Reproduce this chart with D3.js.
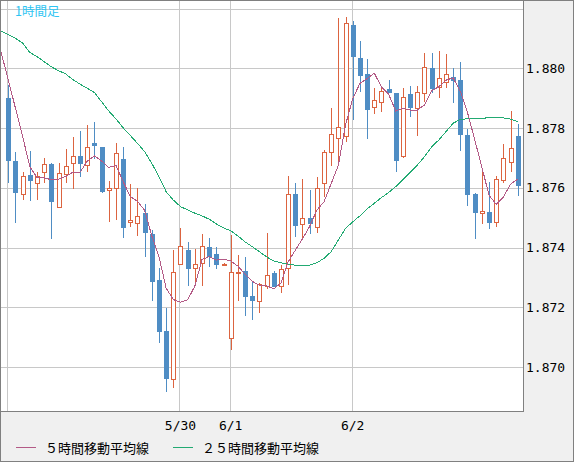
<!DOCTYPE html>
<html><head><meta charset="utf-8">
<script src="https://cdn.jsdelivr.net/npm/d3@7"></script>
<style>
html,body{margin:0;padding:0;background:#f0f0f0;}
svg{display:block;}
</style></head>
<body>
<svg id="chart" width="574" height="462"></svg>
<script>
// ---- data ----
const opens  = [1.87900,1.87690,1.87578,1.87643,1.87615,1.87654,1.87680,1.87537,1.87645,1.87682,1.87706,1.87675,1.87749,1.87735,1.87592,1.87598,1.87696,1.87484,1.87481,1.87514,1.87445,1.87291,1.87122,1.86959,1.87344,1.87392,1.87330,1.87347,1.87401,1.87378,1.87343,1.87096,1.87314,1.87321,1.87238,1.87222,1.87272,1.87314,1.87271,1.87330,1.87579,1.87478,1.87498,1.87468,1.87615,1.87719,1.87766,1.87774,1.88145,1.88033,1.87980,1.87871,1.87888,1.87931,1.87916,1.87707,1.87914,1.87866,1.87916,1.88000,1.87938,1.87955,1.87970,1.87961,1.87777,1.87579,1.87517,1.87518,1.87484,1.87626,1.87685,1.87773];
const highs  = [1.87944,1.87720,1.87653,1.87723,1.87653,1.87701,1.87682,1.87684,1.87730,1.87771,1.87790,1.87810,1.87820,1.87737,1.87622,1.87751,1.87735,1.87613,1.87598,1.87546,1.87459,1.87330,1.87197,1.87392,1.87466,1.87418,1.87395,1.87445,1.87433,1.87401,1.87347,1.87442,1.87375,1.87369,1.87286,1.87282,1.87450,1.87322,1.87341,1.87639,1.87617,1.87628,1.87592,1.87635,1.87726,1.87866,1.88167,1.88171,1.88158,1.88091,1.88031,1.87933,1.87936,1.87961,1.87918,1.87933,1.87941,1.87941,1.88052,1.88052,1.88058,1.88048,1.88000,1.88020,1.87796,1.87581,1.87656,1.87618,1.87639,1.87746,1.87858,1.87813];
const lows   = [1.87617,1.87481,1.87559,1.87557,1.87559,1.87617,1.87428,1.87535,1.87617,1.87597,1.87637,1.87654,1.87695,1.87583,1.87486,1.87492,1.87431,1.87468,1.87439,1.87367,1.87222,1.87079,1.86917,1.86929,1.87342,1.87272,1.87274,1.87271,1.87336,1.87328,1.87341,1.87057,1.87222,1.87172,1.87157,1.87180,1.87263,1.87269,1.87247,1.87274,1.87436,1.87427,1.87444,1.87450,1.87568,1.87674,1.87687,1.87752,1.87827,1.87922,1.87763,1.87847,1.87855,1.87916,1.87654,1.87699,1.87838,1.87773,1.87888,1.87916,1.87901,1.87933,1.87883,1.87724,1.87539,1.87427,1.87479,1.87462,1.87470,1.87615,1.87654,1.87573];
const closes = [1.87691,1.87583,1.87639,1.87624,1.87639,1.87679,1.87553,1.87648,1.87673,1.87706,1.87679,1.87737,1.87740,1.87587,1.87598,1.87715,1.87464,1.87492,1.87505,1.87450,1.87286,1.87118,1.86959,1.87317,1.87405,1.87328,1.87345,1.87405,1.87369,1.87341,1.87345,1.87317,1.87317,1.87235,1.87222,1.87278,1.87308,1.87269,1.87327,1.87578,1.87473,1.87498,1.87478,1.87598,1.87719,1.87779,1.87802,1.88150,1.88039,1.87975,1.87860,1.87894,1.87924,1.87916,1.87691,1.87903,1.87868,1.87920,1.88003,1.87931,1.87966,1.87981,1.87958,1.87777,1.87576,1.87517,1.87522,1.87481,1.87628,1.87699,1.87732,1.87607];
// moving averages, starting one bar before the first visible candle
const ma5  = [1.88053,1.87961,1.87866,1.87771,1.87671,1.87635,1.87633,1.87627,1.87629,1.87638,1.87652,1.87652,1.87689,1.87707,1.87690,1.87668,1.87675,1.87621,1.87571,1.87555,1.87525,1.87439,1.87370,1.87264,1.87226,1.87217,1.87225,1.87271,1.87360,1.87370,1.87358,1.87361,1.87355,1.87338,1.87311,1.87287,1.87274,1.87272,1.87262,1.87281,1.87352,1.87391,1.87429,1.87471,1.87525,1.87553,1.87614,1.87675,1.87810,1.87898,1.87949,1.87965,1.87984,1.87938,1.87914,1.87857,1.87866,1.87860,1.87860,1.87877,1.87925,1.87938,1.87960,1.87968,1.87923,1.87852,1.87762,1.87670,1.87575,1.87545,1.87569,1.87612,1.87629];
const ma25 = [1.88125,1.88113,1.88100,1.88084,1.88053,1.88039,1.88022,1.88005,1.87992,1.87981,1.87962,1.87947,1.87933,1.87919,1.87888,1.87857,1.87831,1.87801,1.87775,1.87749,1.87721,1.87682,1.87637,1.87587,1.87559,1.87537,1.87526,1.87515,1.87506,1.87495,1.87479,1.87466,1.87456,1.87439,1.87419,1.87403,1.87386,1.87369,1.87355,1.87349,1.87345,1.87341,1.87341,1.87341,1.87349,1.87364,1.87386,1.87425,1.87464,1.87486,1.87506,1.87529,1.87548,1.87567,1.87584,1.87604,1.87628,1.87651,1.87676,1.87704,1.87737,1.87760,1.87788,1.87816,1.87829,1.87831,1.87831,1.87832,1.87835,1.87835,1.87834,1.87830,1.87821];
const yTicks = [1.870,1.872,1.874,1.876,1.878,1.880,1.882];
const yTickLabels = ["1.870","1.872","1.874","1.876","1.878","1.880",""];
const xTickIdx = [0,24,31,48];
const xTickLabels = ["","5/30","6/1","6/2"];
const title = "1時間足";
const legendLabels = ["５時間移動平均線","２５時間移動平均線"];

// ---- layout ----
const W = 574, H = 462;
const plotR = 523, plotB = 411;
const svg = d3.select("#chart");

const x = d3.scaleLinear().domain([0, closes.length - 1]).range([8.3, 517.7]);
const y = d3.scaleLinear().domain([1.870, 1.882]).range([367.1, 8.5]);

const colUp = "#dc6440", colDown = "#4f8dc4", colMa5 = "#b35a86", colMa25 = "#22aa72";

svg.append("rect").attr("x",0).attr("y",0).attr("width",W).attr("height",H).attr("fill","#f0f0f0");
svg.append("rect").attr("x",0).attr("y",0).attr("width",plotR).attr("height",plotB).attr("fill","#fff");

svg.append("defs").append("clipPath").attr("id","clip")
  .append("rect").attr("x",0).attr("y",0).attr("width",plotR).attr("height",plotB);

const grid = svg.append("g").attr("shape-rendering","crispEdges");
grid.selectAll("line.h").data(yTicks).join("line")
  .attr("x1",0).attr("x2",plotR)
  .attr("y1",d=>Math.round(y(d))+0.5).attr("y2",d=>Math.round(y(d))+0.5)
  .attr("stroke","#c8c8c8");
grid.selectAll("line.v").data(xTickIdx).join("line")
  .attr("y1",0).attr("y2",plotB)
  .attr("x1",d=>Math.round(x(d))-0.5).attr("x2",d=>Math.round(x(d))-0.5)
  .attr("stroke","#c8c8c8");

const plot = svg.append("g").attr("clip-path","url(#clip)");
const candles = plot.append("g").attr("shape-rendering","crispEdges");
const data = closes.map((c,i)=>({i, o:opens[i], h:highs[i], l:lows[i], c}));

data.forEach(d=>{
  const cx = Math.round(x(d.i));
  const up = d.c >= d.o;
  const yTop = Math.round(y(Math.max(d.o,d.c)));
  const yBot = Math.round(y(Math.min(d.o,d.c)));
  const yH = Math.round(y(d.h)), yL = Math.round(y(d.l));
  const g = candles.append("g");
  if (up) {
    g.append("line").attr("x1",cx+0.5).attr("x2",cx+0.5).attr("y1",yH).attr("y2",yTop).attr("stroke",colUp);
    g.append("line").attr("x1",cx+0.5).attr("x2",cx+0.5).attr("y1",Math.max(yBot,yTop+1)).attr("y2",Math.max(yL,yBot)).attr("stroke",colUp);
    g.append("rect").attr("x",cx-1.5).attr("y",yTop+0.5).attr("width",4)
      .attr("height",Math.max(1,yBot-yTop)).attr("fill","#fff").attr("stroke",colUp);
  } else {
    g.append("line").attr("x1",cx+0.5).attr("x2",cx+0.5).attr("y1",yH).attr("y2",yL).attr("stroke",colDown);
    g.append("rect").attr("x",cx-2).attr("y",yTop).attr("width",5)
      .attr("height",Math.max(1,yBot-yTop)).attr("fill",colDown);
  }
});

const line = d3.line().x((d,k)=>x(k-1)).y(d=>y(d));
plot.append("path").datum(ma25).attr("d",line).attr("fill","none").attr("stroke",colMa25).attr("stroke-width",1).attr("shape-rendering","crispEdges");
plot.append("path").datum(ma5).attr("d",line).attr("fill","none").attr("stroke",colMa5).attr("stroke-width",1).attr("shape-rendering","crispEdges");

// borders
const fr = svg.append("g").attr("shape-rendering","crispEdges").attr("fill","none").attr("stroke","#808080");
fr.append("rect").attr("x",0.5).attr("y",0.5).attr("width",W-1).attr("height",H-1);
fr.append("line").attr("x1",plotR+0.5).attr("x2",plotR+0.5).attr("y1",0).attr("y2",plotB+1);
fr.append("line").attr("x1",0).attr("x2",plotR+1).attr("y1",plotB+0.5).attr("y2",plotB+0.5);

// axis labels
svg.selectAll("text.y").data(yTicks.filter((d,i)=>yTickLabels[i]!=="")).join("text")
  .attr("x",526).attr("y",d=>y(d)+4.5)
  .attr("font-family","'DejaVu Sans Mono', monospace").attr("font-size",13).attr("fill","#000")
  .text(d=>yTickLabels[yTicks.indexOf(d)]);
svg.selectAll("text.x").data(xTickIdx.filter((d,i)=>xTickLabels[i]!=="")).join("text")
  .attr("x",d=>x(d)).attr("y",429.5).attr("text-anchor","middle")
  .attr("font-family","'DejaVu Sans Mono', monospace").attr("font-size",13).attr("fill","#000")
  .text(d=>xTickLabels[xTickIdx.indexOf(d)]);

// title
svg.append("text").attr("x",15).attr("y",15.5).attr("font-family","'Noto Sans CJK JP', sans-serif")
  .attr("font-size",12.5).attr("fill","#2ec4f2").text(title);

// legend
const leg = [{c:colMa5, x:16, t:legendLabels[0]}, {c:colMa25, x:173, t:legendLabels[1]}];
leg.forEach(d=>{
  svg.append("line").attr("x1",d.x).attr("x2",d.x+20).attr("y1",447.5).attr("y2",447.5)
    .attr("stroke",d.c).attr("shape-rendering","crispEdges");
  svg.append("text").attr("x",d.x+29).attr("y",452.5).attr("font-family","'Noto Sans CJK JP', sans-serif")
    .attr("font-size",13).attr("fill","#000").text(d.t);
});
</script>
</body></html>
